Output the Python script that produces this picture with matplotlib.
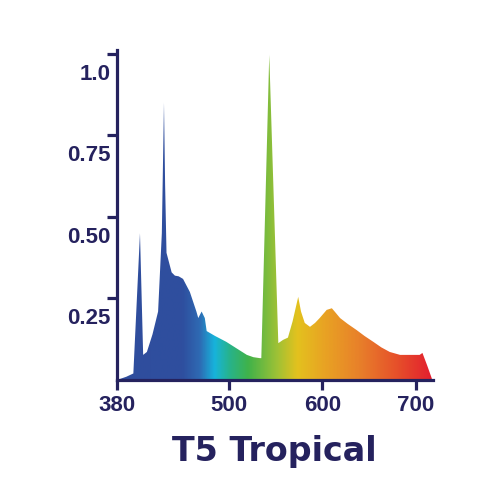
import numpy as np
import matplotlib
matplotlib.use("Agg")
import matplotlib.pyplot as plt
from matplotlib.colors import LinearSegmentedColormap
from matplotlib.transforms import ScaledTranslation

# ---- data ----
wavelength = [380, 385, 390, 397.5, 404.6, 408, 412, 418, 424, 428, 430.3, 431.5, 433,
              438.5, 442, 446, 450.7, 458, 465, 467, 470.6, 474, 476, 485, 497, 508,
              519, 526, 533, 534.5, 543, 552.7, 557.8, 563, 568, 574, 577, 581, 586.6,
              592, 597, 604.5, 610, 613, 618.8, 627, 636.6, 645, 654.4, 663, 672, 683,
              695, 704, 707, 712, 717]
intensity = [0.0, 0.005, 0.01, 0.02, 0.45, 0.077, 0.086, 0.14, 0.21, 0.45, 0.85, 0.6, 0.39,
             0.33, 0.32, 0.318, 0.31, 0.27, 0.21, 0.19, 0.21, 0.19, 0.15, 0.135, 0.117, 0.097,
             0.077, 0.07, 0.067, 0.067, 0.997, 0.113, 0.123, 0.13, 0.18, 0.255, 0.21, 0.175, 0.163,
             0.175, 0.19, 0.215, 0.22, 0.21, 0.19, 0.172, 0.153, 0.135, 0.117, 0.1, 0.086, 0.077,
             0.077, 0.077, 0.083, 0.045, 0.005]

x_ticks = [380, 500, 600, 700]
x_tick_labels = ["380", "500", "600", "700"]
y_ticks = [0.25, 0.50, 0.75, 1.0]
y_tick_labels = ["0.25", "0.50", "0.75", "1.0"]
title = "T5 Tropical"

# spectrum colour stops (wavelength, colour)
stop_wl = [380, 450, 468, 484, 500, 520, 551, 573, 600, 640, 680, 718]
stop_col = ["#2f4d9d", "#2f4f9f", "#2e6ab3", "#17b3dc", "#27b38c", "#3fb24a", "#9dc136",
            "#e3c21e", "#e8a523", "#e8802a", "#e6502a", "#e31e2f"]

navy = "#25225e"
xmin, xmax = 380, 718.3
ymin, ymax = 0, 1.012

fig = plt.figure(figsize=(5, 5), dpi=100)
ax = fig.add_axes([0.234, 0.24, 0.632, 0.66])

poly = ax.fill_between(wavelength, intensity, 0, color="none", lw=0)

w0, w1 = stop_wl[0], stop_wl[-1]
cmap = LinearSegmentedColormap.from_list(
    "spec", [((w - w0) / (w1 - w0), c) for w, c in zip(stop_wl, stop_col)])
grad = np.linspace(0, 1, 600).reshape(1, -1)
im = ax.imshow(grad, cmap=cmap, extent=[w0, w1, ymin, ymax],
               aspect="auto", origin="lower", interpolation="bilinear", zorder=1)
path = poly.get_paths()[0]
im.set_clip_path(path, transform=ax.transData)

ax.set_xlim(xmin, xmax)
ax.set_ylim(ymin, ymax)

for s in ["top", "right"]:
    ax.spines[s].set_visible(False)
for s in ["left", "bottom"]:
    ax.spines[s].set_color(navy)
    ax.spines[s].set_linewidth(2.3)

ax.set_xticks(x_ticks)
ax.set_xticklabels(x_tick_labels)
ax.set_yticks(y_ticks)
ax.set_yticklabels(y_tick_labels)
ax.tick_params(axis="both", colors=navy, width=2.3, length=7.5, direction="out",
               labelsize=16)
ax.tick_params(axis="x", pad=3)
ax.tick_params(axis="y", pad=0)
for lab in ax.get_xticklabels() + ax.get_yticklabels():
    lab.set_fontfamily("Liberation Sans")
    lab.set_fontweight("bold")
    lab.set_color(navy)
for lab in ax.get_yticklabels():
    lab.set_transform(lab.get_transform() + ScaledTranslation(0.04, -0.18, fig.dpi_scale_trans))

fig.text(0.548, 0.077, title, ha="center", va="baseline", fontsize=24,
         fontweight="bold", family="DejaVu Sans", color=navy)

fig.savefig("out.png", dpi=100, facecolor="white")
